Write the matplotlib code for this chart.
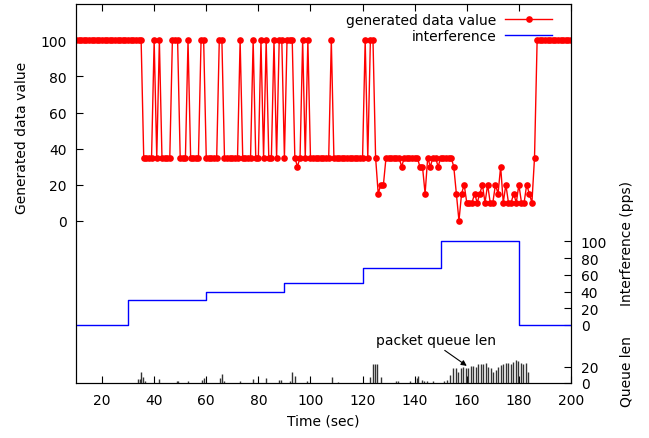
import numpy as np
import matplotlib
matplotlib.use('Agg')
import matplotlib.pyplot as plt
from matplotlib.lines import Line2D

plt.rcParams['font.family'] = ['DejaVu Sans']
plt.rcParams['font.size'] = 10

# generated data value, one sample per second from t=10 to t=200
data_t = np.arange(10, 201)
data_v = [
    100, 100, 100, 100, 100, 100, 100, 100, 100, 100,   # 10-19
    100, 100, 100, 100, 100, 100, 100, 100, 100, 100,   # 20-29
    100, 100, 100, 100, 100, 100, 35, 35, 35, 35,       # 30-39
    100, 35, 100, 35, 35, 35, 35, 100, 100, 100,        # 40-49
    35, 35, 35, 100, 35, 35, 35, 35, 100, 100,          # 50-59
    35, 35, 35, 35, 35, 100, 100, 35, 35, 35,           # 60-69
    35, 35, 35, 100, 35, 35, 35, 35, 100, 35,           # 70-79
    35, 100, 35, 100, 35, 35, 100, 35, 100, 100,        # 80-89
    35, 100, 100, 100, 35, 30, 35, 100, 35, 100,        # 90-99
    35, 35, 35, 35, 35, 35, 35, 35, 100, 35,            # 100-109
    35, 35, 35, 35, 35, 35, 35, 35, 35, 35,             # 110-119
    35, 100, 35, 100, 100, 35, 15, 20, 20, 35,          # 120-129
    35, 35, 35, 35, 35, 30, 35, 35, 35, 35,             # 130-139
    35, 35, 30, 30, 15, 35, 30, 35, 35, 30,             # 140-149
    35, 35, 35, 35, 35, 30, 15, 0, 15, 20,              # 150-159
    10, 10, 10, 15, 10, 15, 20, 10, 20, 10,             # 160-169
    10, 20, 15, 30, 10, 20, 10, 10, 15, 10,             # 170-179
    20, 10, 10, 20, 15, 10, 35, 100, 100, 100,          # 180-189
    100, 100, 100, 100, 100, 100, 100, 100, 100, 100, 100,  # 190-200
]

# interference (pps), step changes
intf_t = [10, 30, 60, 90, 120, 150, 180, 200]
intf_v = [0, 30, 40, 50, 68, 100, 0, 0]

# packet queue length samples
queue_t = [33.9, 34.6, 35.1, 35.8, 36.6, 42.0, 48.6, 49.3, 53.1, 58.4, 59.0,
           65.3, 65.9, 66.8, 73.0, 78.0, 82.9, 88.0, 88.8, 92.1, 92.9, 94.0,
           98.8, 108.1, 110.7, 122.9, 123.9, 124.8, 125.7, 127.0, 133.0, 133.7,
           138.2, 140.7, 141.4, 142.7, 143.7, 144.6, 147.2, 151.3, 152.3, 153.6,
           154.8, 155.9, 156.8, 157.7, 158.7, 159.6, 160.6, 161.5, 162.5, 163.4,
           164.4, 165.3, 166.4, 167.3, 168.3, 169.2, 170.2, 171.1, 172.1, 173.0,
           174.0, 174.9, 175.9, 176.9, 177.9, 178.9, 179.8, 180.8, 181.7, 182.7,
           183.6]
queue_v = [5, 5, 13, 7, 2, 5, 2, 2, 2, 4, 6,
           6, 11, 3, 2, 5, 6, 4, 4, 3, 14, 9,
           2, 7, 1, 7, 23, 23, 23, 7, 2, 2,
           2, 6, 8, 4, 3, 3, 2, 2, 4, 10,
           18, 19, 14, 18, 20, 19, 19, 21, 21, 20,
           23, 23, 23, 24, 20, 18, 14, 16, 20, 22,
           23, 24, 24, 23, 26, 28, 27, 24, 23, 25,
           14]

fig = plt.figure(figsize=(6.49, 4.39), dpi=100)
ax = fig.add_axes([0.1171, 0.1253, 0.7627, 0.8633])

# upper part: generated data
ax.plot(data_t, data_v, color='#ff0000', lw=1, marker='o', ms=4.8,
        markeredgewidth=0)
ax.set_xlim(10, 200)
ax.set_ylim(-90, 120.2)
ax.set_yticks([0, 20, 40, 60, 80, 100])
ax.set_xticks(np.arange(20, 201, 20))
ax.tick_params(direction='in', length=5, top=True, right=False, pad=6.5)
ax.tick_params(axis='x', pad=7)
ax.set_xlabel('Time (sec)', labelpad=5)
ax.text(-0.109, 0.65, 'Generated data value', rotation=90, transform=ax.transAxes,
        ha='center', va='center')

# middle part: interference
ax_i = ax.twinx()
ax_i.step(intf_t, intf_v, where='post', color='#0000ff', lw=1)
ax_i.set_ylim(-69.3, 383.5)
ax_i.set_yticks([0, 20, 40, 60, 80, 100])
ax_i.tick_params(direction='in', length=5, pad=7)
ax_i.text(1.113, 0.372, 'Interference (pps)', rotation=90, transform=ax.transAxes,
          ha='center', va='center')

# bottom part: queue length impulses
ax_q = ax.twinx()
ax_q.vlines(queue_t, 0, queue_v, color='#333333', lw=1)
ax_q.set_ylim(0, 465)
ax_q.set_yticks([0, 20])
ax_q.tick_params(direction='in', length=5, pad=7)
for s in ax_q.spines.values():
    s.set_visible(False)
ax_q.text(1.113, 0.034, 'Queue len', rotation=90, transform=ax.transAxes,
          ha='center', va='center')
ax_q.annotate('packet queue len', xy=(160, 21), xytext=(148.2, 53),
              ha='center', va='center',
              arrowprops=dict(arrowstyle='-|>', color='black', lw=0.8,
                              mutation_scale=8, relpos=(0.53, 0.0),
                              shrinkA=1, shrinkB=0))

handles = [Line2D([], [], color='#ff0000', lw=1, marker='o', ms=4.8,
                  markeredgewidth=0),
           Line2D([], [], color='#0000ff', lw=1)]
ax_q.legend(handles, ['generated data value', 'interference'], loc='upper right',
            bbox_to_anchor=(0.962, 0.977), frameon=False, markerfirst=False,
            handlelength=3.4, handletextpad=0.6, labelspacing=0.15,
            borderpad=0, borderaxespad=0)

fig.savefig('out.png', dpi=100)
